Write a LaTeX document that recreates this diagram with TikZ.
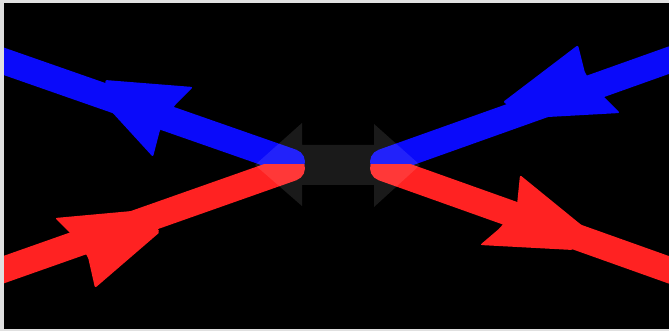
\documentclass[tikz,border=0pt]{standalone}
\usetikzlibrary{positioning}
\definecolor{beamblue}{RGB}{10,10,250}
\definecolor{beamred}{RGB}{255,34,34}

\begin{document}
\begin{tikzpicture}[
  x=1pt, y=-1pt,
  beam/.style={line width=26pt, line cap=round},
  bluebeam/.style={beam, draw=beamblue},
  redbeam/.style={beam, draw=beamred},
  bluehead/.style={fill=beamblue, rounded corners=2pt},
  redhead/.style={fill=beamred, rounded corners=2pt},
  gapmark/.style={fill=white, fill opacity=0.1}
]
  \useasboundingbox (0,0) rectangle (669,331);
  \fill[black!12] (0,0) rectangle (669,331);
  \fill[black] (4,3) rectangle (669,329);
  \clip (4,3) rectangle (669,329);

  % beam ends
  \coordinate (blueL) at (-20,53);
  \coordinate (blueC) at (292,162);
  \coordinate (blueR) at (689,53);
  \coordinate (blueD) at (383,162);
  \coordinate (redL) at (-20,278);
  \coordinate (redC) at (292,168);
  \coordinate (redR) at (689,277);
  \coordinate (redD) at (383,168);

  \begin{scope}
    \clip (0,0) rectangle (669,165);
    \draw[bluebeam] (blueL) -- (blueC);
    \draw[bluebeam] (blueR) -- (blueD);
  \end{scope}
  \begin{scope}
    \clip (0,165) rectangle (669,331);
    \draw[redbeam] (redL) -- (redC);
    \draw[redbeam] (redR) -- (redD);
  \end{scope}

  % heads
  \fill[bluehead] (105,80) -- (193,87) -- (175,105) -- (160,130) -- (153,157) -- (110,110) -- cycle;
  \fill[bluehead] (503,102) -- (578,45) -- (585,73) -- (602,95) -- (620,113) -- (530,118) -- cycle;
  \fill[redhead] (55,218) -- (72,235) -- (88,257) -- (95,288) -- (160,232) -- (143,210) -- cycle;
  \fill[redhead] (520,175) -- (590,232) -- (573,250) -- (480,245) -- (500,228) -- (517,205) -- cycle;

  % gap
  \fill[gapmark] (255,165) -- (302,123) -- (302,145) -- (374,145) -- (374,124) -- (420,165)
    -- (374,207) -- (374,185) -- (302,185) -- (302,206) -- cycle;
\end{tikzpicture}
\end{document}
